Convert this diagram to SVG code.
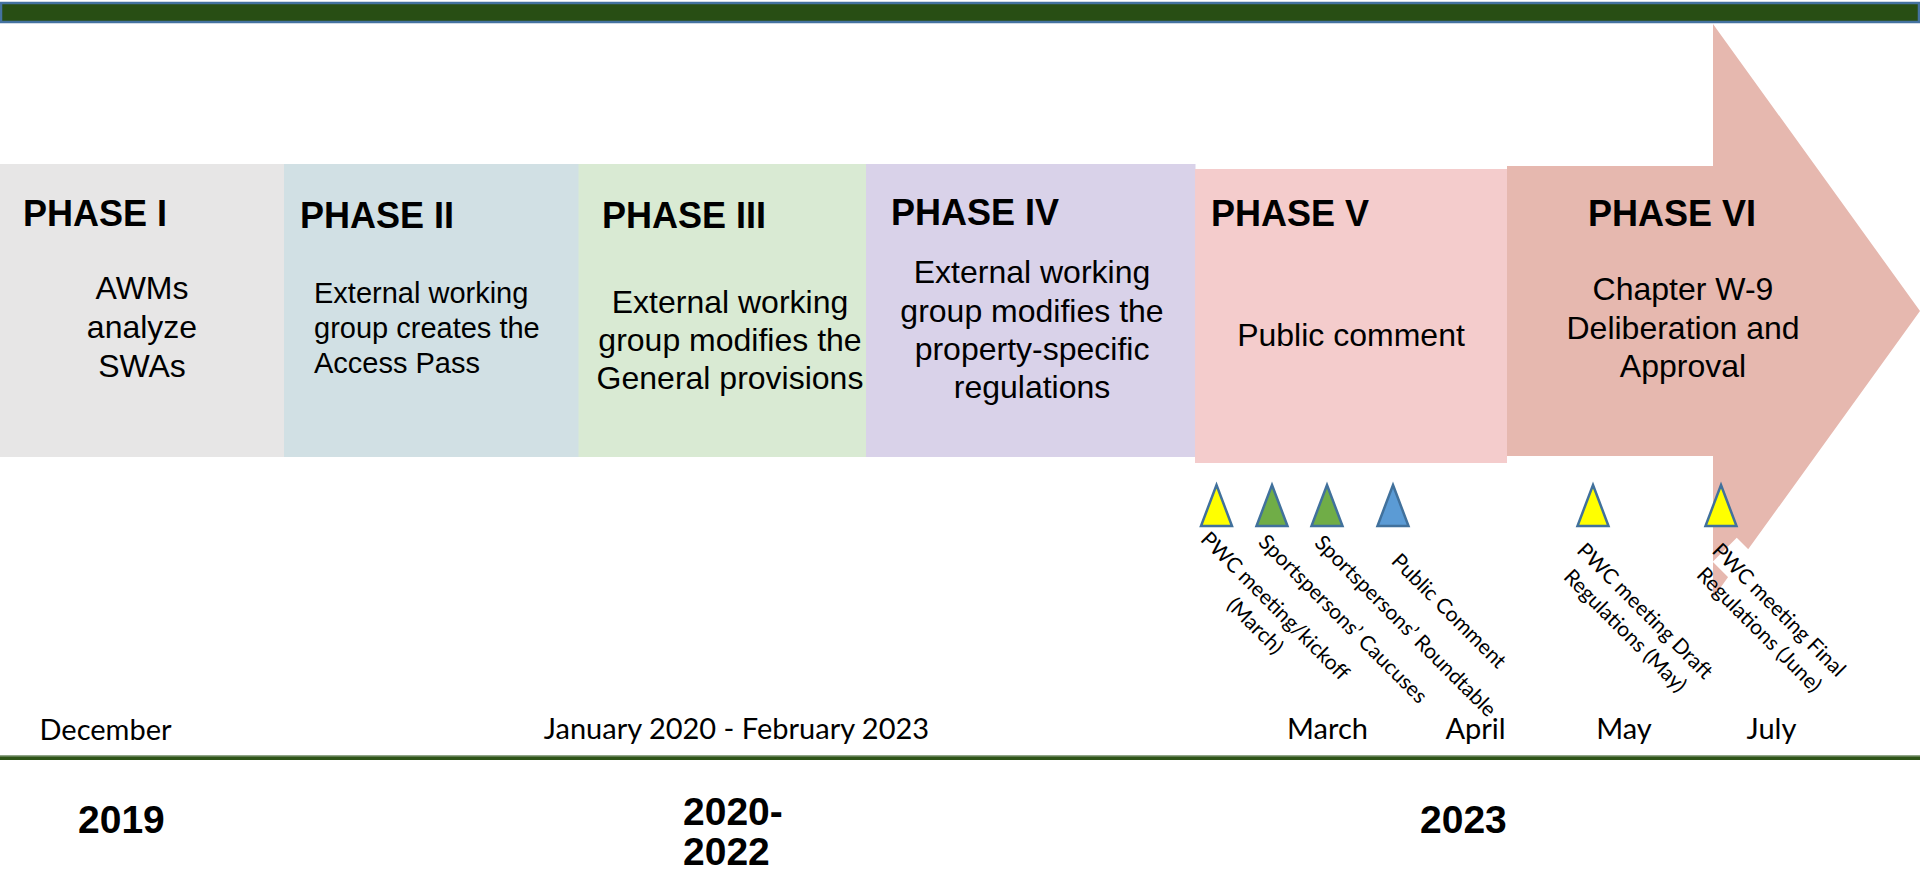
<svg xmlns="http://www.w3.org/2000/svg" width="1920" height="871" viewBox="0 0 1920 871">
<style>
.title{font-family:"Liberation Sans",Arial,sans-serif;font-weight:bold;font-size:36px;fill:#000}
.body{font-family:"Liberation Sans",Arial,sans-serif;font-size:32px;fill:#000;text-anchor:middle}
.body2{font-family:"Liberation Sans",Arial,sans-serif;font-size:29px;fill:#000}
.lbl{font-family:Lato,"Liberation Sans",sans-serif;font-size:21px;fill:#000;text-anchor:middle}
.month{font-family:Lato,"Liberation Sans",sans-serif;font-size:29px;fill:#000;text-anchor:middle}
.year{font-family:"Liberation Sans",Arial,sans-serif;font-weight:bold;font-size:39px;fill:#000}
.tri{stroke:#41719C;stroke-width:2.5;stroke-linejoin:miter}
</style>
<rect width="1920" height="871" fill="#FFFFFF"/>
<g id="top-bar">
<rect x="1" y="3" width="1918" height="19" fill="#284E14" stroke="#4472A0" stroke-width="2.5"/>
</g>
<g id="phase6">
<polygon points="1507,166 1713,166 1713,24 1920,311 1713,598 1713,456 1507,456" fill="#E6B8AF"/>
<text class="title" x="1588" y="226">PHASE VI</text>
<text class="body" x="1683" y="300">Chapter W-9</text>
<text class="body" x="1683" y="339">Deliberation and</text>
<text class="body" x="1683" y="377">Approval</text>
</g>
<g id="phase1">
<rect x="0" y="164" width="284" height="293" fill="#E7E6E6"/>
<text class="title" x="23" y="226">PHASE I</text>
<text class="body" x="142" y="299">AWMs</text>
<text class="body" x="142" y="338">analyze</text>
<text class="body" x="142" y="377">SWAs</text>
</g>
<g id="phase2">
<rect x="284" y="164" width="295" height="293" fill="#D1E0E4"/>
<text class="title" x="300" y="228">PHASE II</text>
<text class="body2" x="314" y="303">External working</text>
<text class="body2" x="314" y="338">group creates the</text>
<text class="body2" x="314" y="373">Access Pass</text>
</g>
<g id="phase3">
<rect x="578.5" y="164" width="288" height="293" fill="#D9EAD3"/>
<text class="title" x="602" y="228">PHASE III</text>
<text class="body" x="730" y="313">External working</text>
<text class="body" x="730" y="351">group modifies the</text>
<text class="body" x="730" y="389">General provisions</text>
</g>
<g id="phase4">
<rect x="866" y="164" width="329.5" height="293" fill="#D9D2E9"/>
<text class="title" x="891" y="225">PHASE IV</text>
<text class="body" x="1032" y="283">External working</text>
<text class="body" x="1032" y="321.5">group modifies the</text>
<text class="body" x="1032" y="360">property-specific</text>
<text class="body" x="1032" y="398">regulations</text>
</g>
<g id="phase5">
<rect x="1195" y="169" width="312" height="294" fill="#F4CCCC"/>
<text class="title" x="1211" y="226">PHASE V</text>
<text class="body" x="1351" y="346">Public comment</text>
</g>
<g id="milestone1">
<polygon class="tri" points="1216.5,485 1232,526 1201,526" fill="#FFFF00"/>
<g transform="translate(1270,611) rotate(45)">
<text class="lbl" x="0" y="0">PWC meeting/kickoff</text>
<text class="lbl" x="0" y="28">(March)</text>
</g>
</g>
<g id="milestone2">
<polygon class="tri" points="1272,485 1287.5,526 1256.5,526" fill="#70AD47"/>
<g transform="translate(1338,624) rotate(45)">
<text class="lbl" x="0" y="0">Sportspersons’ Caucuses</text>
</g>
</g>
<g id="milestone3">
<polygon class="tri" points="1327,485 1342.5,526 1311.5,526" fill="#70AD47"/>
<g transform="translate(1400.5,631) rotate(45)">
<text class="lbl" x="0" y="0">Sportspersons’ Roundtable</text>
</g>
</g>
<g id="milestone4">
<polygon class="tri" points="1393,485 1408.5,526 1377.5,526" fill="#5B9BD5"/>
<g transform="translate(1444,616) rotate(45)">
<text class="lbl" x="0" y="0">Public Comment</text>
</g>
</g>
<g id="milestone5">
<polygon class="tri" points="1593,485 1608.5,526 1577.5,526" fill="#FFFF00"/>
<g transform="translate(1640,616) rotate(45)">
<text class="lbl" x="0" y="0">PWC meeting Draft</text>
<text class="lbl" x="0" y="28">Regulations (May)</text>
</g>
</g>
<g id="milestone6">
<polygon class="tri" points="1721,485 1736.5,526 1705.5,526" fill="#FFFF00"/>
<g transform="translate(1774,615) rotate(45)">
<rect x="-81" y="-28.3" width="162" height="34" fill="#FFFFFF"/>
<text class="lbl" x="0" y="0">PWC meeting Final</text>
<text class="lbl" x="0" y="28">Regulations (June)</text>
</g>
</g>
<g id="months">
<text class="month" x="105.5" y="740">December</text>
<text class="month" x="736.5" y="739">January 2020 - February 2023</text>
<text class="month" x="1327.5" y="739">March</text>
<text class="month" x="1475.5" y="739">April</text>
<text class="month" x="1624" y="739">May</text>
<text class="month" x="1771.5" y="739">July</text>
</g>
<g id="connectors">
<rect x="0" y="755" width="1920" height="5" fill="#2E5417"/>
<rect x="0" y="755" width="1920" height="1.5" fill="#8FA487"/>
</g>
<g id="years">
<text class="year" x="78" y="833">2019</text>
<text class="year" x="683" y="825">2020-</text>
<text class="year" x="683" y="865">2022</text>
<text class="year" x="1420" y="833">2023</text>
</g>
</svg>
